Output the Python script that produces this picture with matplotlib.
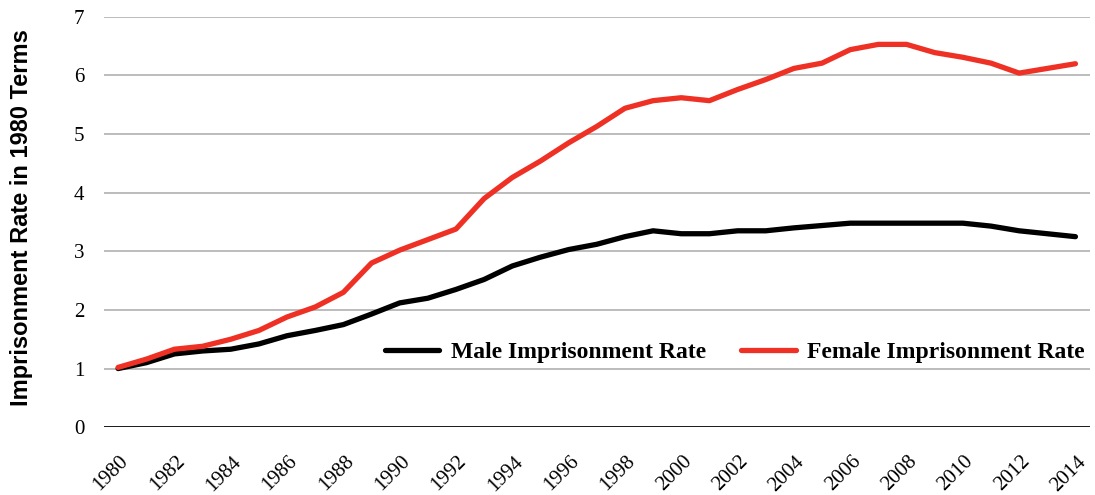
import numpy as np
import matplotlib.pyplot as plt
from matplotlib import font_manager

# data (indexed to 1980 = 1)
years = list(range(1980, 2015))
male = [1.00, 1.10, 1.25, 1.30, 1.33, 1.42, 1.56, 1.65, 1.75, 1.93,
        2.12, 2.20, 2.35, 2.52, 2.75, 2.90, 3.03, 3.12, 3.25, 3.35,
        3.30, 3.30, 3.35, 3.35, 3.40, 3.44, 3.48, 3.48, 3.48, 3.48,
        3.48, 3.43, 3.35, 3.30, 3.25]
female = [1.02, 1.16, 1.33, 1.38, 1.50, 1.65, 1.88, 2.05, 2.30, 2.80,
          3.02, 3.20, 3.38, 3.90, 4.26, 4.54, 4.85, 5.13, 5.44, 5.57,
          5.62, 5.57, 5.76, 5.93, 6.12, 6.21, 6.44, 6.53, 6.53, 6.39,
          6.31, 6.21, 6.04, 6.12, 6.20]
tick_years = years[::2]

names = {f.name for f in font_manager.fontManager.ttflist}
serif = "Liberation Serif"
label_font = "Liberation Sans Narrow" if "Liberation Sans Narrow" in names else "Liberation Sans"

fig, ax = plt.subplots(figsize=(10.95, 4.95), dpi=100)
fig.subplots_adjust(left=0.095, right=0.995, top=0.966, bottom=0.137)

x = np.arange(len(years))
ax.plot(x, male, color="black", lw=3.8, solid_capstyle="round",
        label="Male Imprisonment Rate", zorder=3)
ax.plot(x, female, color="#ee3124", lw=3.8, solid_capstyle="round",
        label="Female Imprisonment Rate", zorder=3)

ax.set_xlim(-0.5, len(years) - 0.5)
ax.set_ylim(0, 7)
ax.set_yticks(range(0, 8))
ax.grid(axis="y", color="#b0b0b0", lw=1.2)
ax.axhline(0, color="black", lw=1.2, zorder=2)
ax.set_axisbelow(True)
for s in ax.spines.values():
    s.set_visible(False)

# year labels: rotated, sitting a little left of each tick like the original
ax.set_xticks([years.index(y) for y in tick_years])
ax.set_xticklabels([])
for y in tick_years:
    ax.annotate(str(y), xy=(years.index(y), 0), xycoords=("data", "axes fraction"),
                xytext=(-5, -18), textcoords="offset points", rotation=45,
                ha="center", va="top", fontfamily=serif, fontsize=15,
                annotation_clip=False)
for lab in ax.get_yticklabels():
    lab.set_fontfamily(serif)
    lab.set_fontsize(15)
ax.tick_params(length=0)
ax.tick_params(axis="y", pad=14)

ax.set_ylabel("Imprisonment Rate in 1980 Terms", fontfamily=label_font,
              fontweight="bold", fontsize=17)
ax.yaxis.set_label_coords(-0.072, 0.51)

ax.legend(loc="center", bbox_to_anchor=(0.64, 0.183), ncol=2, frameon=False,
          prop={"family": serif, "weight": "bold", "size": 17},
          handlelength=2.3, handletextpad=0.5, columnspacing=1.5)

plt.savefig("out.png", dpi=100)
